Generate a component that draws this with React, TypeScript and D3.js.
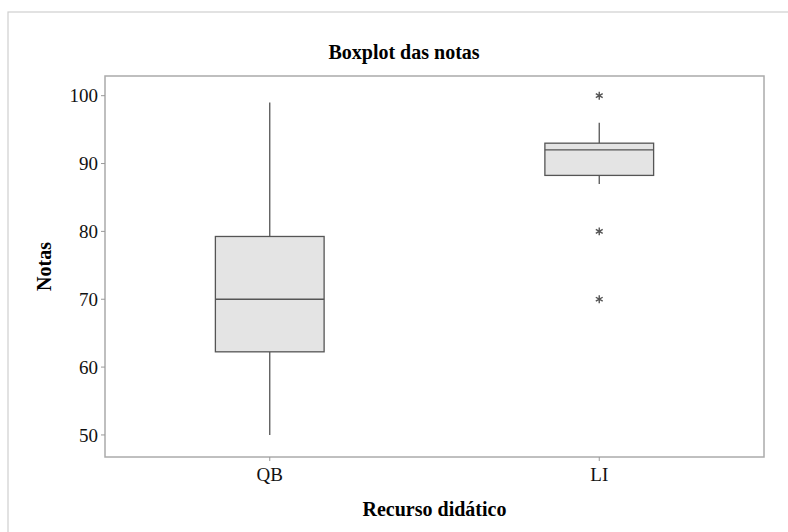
import React from 'react';
import * as d3 from 'd3';

// groups and five-number summaries
const groups = ['QB', 'LI'];
const whiskerLow = [50, 87];
const q1 = [62.25, 88.25];
const median = [70, 92];
const q3 = [79.25, 93];
const whiskerHigh = [99, 96];
const outliers = [[], [100, 80, 70]];
const yTicks = [50, 60, 70, 80, 90, 100];

const W = 788;
const H = 532;
const margin = { top: 76, right: 24, bottom: 75, left: 105 };
const serif = '"Liberation Serif", "Times New Roman", serif';

const App = () => {
  const x = d3.scalePoint<string>()
    .domain(groups)
    .range([margin.left, W - margin.right])
    .padding(0.5);

  const y = d3.scaleLinear()
    .domain([46.75, 102.9])
    .range([H - margin.bottom, margin.top]);

  const boxW = x.step() * 0.33;
  const star = d3.symbol().type(d3.symbolAsterisk).size(44);
  const plotBottom = H - margin.bottom;
  const plotRight = W - margin.right;

  return (
    <div style={{ position: 'absolute', left: 0, top: 0 }}>
      <svg width={W} height={H} style={{ display: 'block', background: '#fff' }}>
        {/* outer frame */}
        <rect x={8} y={12} width={W + 10} height={H + 10} fill="none" stroke="#cfcfcf" strokeWidth={1.2} />

        <text x={404} y={59} textAnchor="middle" fontFamily={serif} fontWeight="bold" fontSize={20}>
          Boxplot das notas
        </text>

        {/* plot area */}
        <rect
          x={margin.left}
          y={margin.top}
          width={plotRight - margin.left}
          height={plotBottom - margin.top}
          fill="none"
          stroke="#ababab"
          strokeWidth={1.5}
        />

        {/* y axis */}
        {yTicks.map(t => (
          <g key={t} transform={`translate(${margin.left},${y(t)})`}>
            <line x1={-4} x2={0} stroke="#999" />
            <text x={-7} dy="0.35em" textAnchor="end" fontFamily={serif} fontSize={19} fill="#111">
              {t}
            </text>
          </g>
        ))}
        <text
          transform={`translate(51,${(margin.top + plotBottom) / 2}) rotate(-90)`}
          textAnchor="middle"
          fontFamily={serif}
          fontWeight="bold"
          fontSize={20}
        >
          Notas
        </text>

        {/* x axis */}
        {groups.map(g => (
          <g key={g} transform={`translate(${x(g)},${plotBottom})`}>
            <line y1={0} y2={4} stroke="#999" />
            <text y={24} textAnchor="middle" fontFamily={serif} fontSize={19} fill="#111">
              {g}
            </text>
          </g>
        ))}
        <text
          x={(margin.left + plotRight) / 2}
          y={516}
          textAnchor="middle"
          fontFamily={serif}
          fontWeight="bold"
          fontSize={20}
        >
          Recurso didático
        </text>

        {/* boxes */}
        {groups.map((g, i) => {
          const cx = x(g) as number;
          return (
            <g key={g} stroke="#555" strokeWidth={1.3}>
              <line x1={cx} x2={cx} y1={y(whiskerHigh[i])} y2={y(q3[i])} />
              <line x1={cx} x2={cx} y1={y(q1[i])} y2={y(whiskerLow[i])} />
              <rect
                x={cx - boxW / 2}
                y={y(q3[i])}
                width={boxW}
                height={y(q1[i]) - y(q3[i])}
                fill="#e4e4e4"
              />
              <line x1={cx - boxW / 2} x2={cx + boxW / 2} y1={y(median[i])} y2={y(median[i])} />
              {outliers[i].map(v => (
                <path
                  key={v}
                  d={star() as string}
                  transform={`translate(${cx},${y(v)})`}
                  fill="none"
                  stroke="#555"
                  strokeWidth={1.4}
                />
              ))}
            </g>
          );
        })}
      </svg>
    </div>
  );
};

export default App;
